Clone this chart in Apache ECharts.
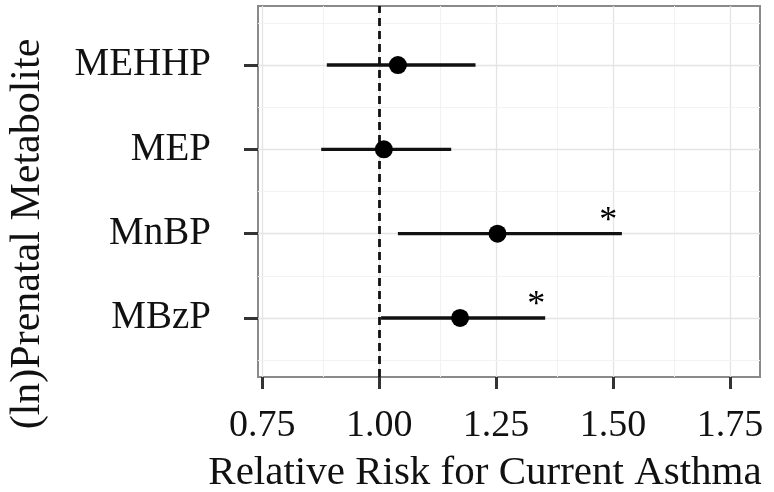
<!DOCTYPE html>
<html>
<head>
<meta charset="utf-8">
<script src="https://cdn.jsdelivr.net/npm/echarts@6/dist/echarts.min.js"></script>
<style>
  html, body { margin: 0; padding: 0; background: #fff; }
  #main { width: 774px; height: 492px; }
</style>
</head>
<body>
<div id="main"></div>
<script>
// metabolites, top to bottom
var metabolites = ['MEHHP', 'MEP', 'MnBP', 'MBzP'];
var rowPos = [4, 3, 2, 1];
var estimate = [1.04, 1.01, 1.253, 1.173];
var lower = [0.888, 0.876, 1.04, 1.004];
var upper = [1.206, 1.154, 1.519, 1.355];
// asterisk marks (null = not significant)
var starX = [null, null, 1.49, 1.336];
var xTicks = [0.75, 1.00, 1.25, 1.50, 1.75];
var xMinor = [0.875, 1.125, 1.375, 1.625];
var yMinor = [0.5, 1.5, 2.5, 3.5, 4.5];

var font = '"Liberation Serif", "Times New Roman", serif';
var myChart = echarts.init(document.getElementById('main'));

var barData = [], pointData = [], starData = [];
for (var i = 0; i < metabolites.length; i++) {
    barData.push([lower[i], upper[i], rowPos[i]]);
    pointData.push([estimate[i], rowPos[i]]);
    if (starX[i] != null) starData.push([starX[i], rowPos[i]]);
}

var major = { color: '#e4e4e4', width: 1.3, type: 'solid' };
var minor = { color: '#f2f2f2', width: 1, type: 'solid' };
var gridLines = [];
xTicks.forEach(function (v) { gridLines.push({ xAxis: v, lineStyle: major }); });
xMinor.forEach(function (v) { gridLines.push({ xAxis: v, lineStyle: minor }); });
rowPos.forEach(function (v) { gridLines.push({ yAxis: v, lineStyle: major }); });
yMinor.forEach(function (v) { gridLines.push({ yAxis: v, lineStyle: minor }); });

var option = {
    backgroundColor: '#fff',
    animation: false,
    grid: {
        left: 258, right: 14, top: 6, bottom: 115,
        show: true, borderColor: '#8a8a8a', borderWidth: 2, backgroundColor: 'transparent'
    },
    xAxis: {
        type: 'value',
        min: 0.7408,
        max: 1.8144,
        axisLine: { show: false },
        splitLine: { show: false },
        axisTick: { show: true, customValues: xTicks, length: 12, lineStyle: { color: '#333', width: 3 } },
        axisLabel: {
            customValues: xTicks, margin: 30,
            fontFamily: font, fontSize: 38, color: '#111',
            formatter: function (v) { return v.toFixed(2); }
        }
    },
    yAxis: {
        type: 'value',
        min: 0.3,
        max: 4.7,
        axisLine: { show: false },
        splitLine: { show: false },
        axisTick: { show: true, customValues: rowPos, length: 14, lineStyle: { color: '#333', width: 3 } },
        axisLabel: {
            customValues: rowPos, margin: 47,
            fontFamily: font, fontSize: 39, color: '#111', padding: [10, 0, 0, 0],
            formatter: function (v) { return metabolites[rowPos.indexOf(Math.round(v))]; }
        }
    },
    graphic: [
        {
            type: 'text', x: 485, y: 473,
            style: {
                text: 'Relative Risk for Current Asthma',
                font: '41px ' + font, fill: '#111', textAlign: 'center', textVerticalAlign: 'middle'
            }
        },
        {
            type: 'text', x: 28, y: 234, rotation: Math.PI / 2,
            style: {
                text: '(ln)Prenatal Metabolite',
                font: '42px ' + font, fill: '#111', textAlign: 'center', textVerticalAlign: 'middle'
            }
        }
    ],
    series: [
        {
            name: 'grid',
            type: 'scatter',
            data: [],
            z: 1,
            markLine: { z: 1, silent: true, symbol: 'none', label: { show: false }, animation: false, data: gridLines }
        },
        {
            name: 'ref',
            type: 'scatter',
            data: [],
            z: 3,
            markLine: {
                z: 3, silent: true, symbol: 'none', label: { show: false }, animation: false,
                data: [{ xAxis: 1.0, lineStyle: { color: '#111', width: 2.8, type: [8, 5] } }]
            }
        },
        {
            name: 'ci',
            type: 'custom',
            z: 4,
            renderItem: function (params, api) {
                var a = api.coord([api.value(0), api.value(2)]);
                var b = api.coord([api.value(1), api.value(2)]);
                return {
                    type: 'line',
                    shape: { x1: a[0], y1: a[1], x2: b[0], y2: b[1] },
                    style: { stroke: '#111', lineWidth: 3.3 }
                };
            },
            encode: { x: [0, 1], y: 2 },
            data: barData
        },
        {
            name: 'estimate',
            type: 'scatter',
            z: 5,
            symbol: 'circle',
            symbolSize: 18,
            itemStyle: { color: '#000', opacity: 1 },
            data: pointData
        },
        {
            name: 'star',
            type: 'scatter',
            z: 5,
            symbolSize: 0,
            itemStyle: { color: '#000', opacity: 1 },
            label: {
                show: true, position: 'inside', offset: [0, -12],
                formatter: '*', fontFamily: font, fontSize: 36, color: '#000'
            },
            data: starData
        }
    ]
};
myChart.setOption(option);
</script>
</body>
</html>
